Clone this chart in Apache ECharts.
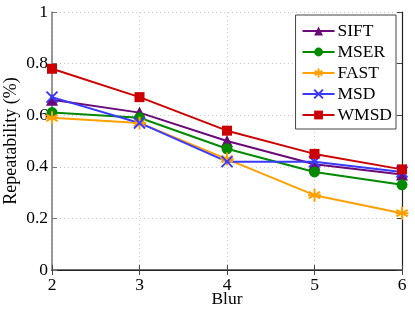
<!DOCTYPE html>
<html><head><meta charset="utf-8">
<script src="https://cdn.jsdelivr.net/npm/echarts@6/dist/echarts.min.js"></script>
<style>html,body{margin:0;padding:0;background:#fff}#c{width:415px;height:313px}</style>
</head><body><div id="c"></div>
<script>
const blur = [2, 3, 4, 5, 6];
const sift = [0.66, 0.61, 0.50, 0.41, 0.37];
const mser = [0.61, 0.59, 0.47, 0.38, 0.33];
const fast = [0.59, 0.57, 0.43, 0.29, 0.22];
const msd  = [0.67, 0.57, 0.42, 0.42, 0.38];
const wmsd = [0.78, 0.67, 0.54, 0.45, 0.39];
const yTicks = [0, 0.2, 0.4, 0.6, 0.8, 1];

const F = "'Liberation Serif','Times New Roman',serif";
const FS = 17.5;
const pair = arr => blur.map((b, i) => [b, arr[i]]);
const asterisk = 'path://M0,-10L0,10M-8.66,-5L8.66,5M-8.66,5L8.66,-5M-10,0L10,0';
const cross = 'path://M-10,-10L10,10M-10,10L10,-10';
function mk(name, data, color, symbol, size, stroke) {
  const s = {
    name, type: 'line', data: pair(data), symbol, symbolSize: size,
    lineStyle: {color, width: 2}, itemStyle: {color},
    emphasis: {disabled: true}, z: 3
  };
  if (stroke) s.itemStyle = {color: 'rgba(0,0,0,0)', borderColor: color, borderWidth: 2};
  return s;
}
const chart = echarts.init(document.getElementById('c'));
chart.setOption({
  animation: false,
  grid: {left: 52, right: 13, top: 12, bottom: 43, containLabel: false, outerBoundsMode: 'none'},
  legend: {
    right: 19, top: 15, orient: 'vertical', itemWidth: 32, itemHeight: 11, itemGap: 3,
    backgroundColor: '#fff', borderColor: '#444', borderWidth: 1, padding: [7, 4, 5, 6],
    textStyle: {fontFamily: F, fontSize: FS, color: '#000', padding: [0, 0, 0, -2]},
    data: ['SIFT', 'MSER', 'FAST', 'MSD', 'WMSD']
  },
  xAxis: [{
    type: 'value', min: 2, max: 6, interval: 1, name: 'Blur', nameLocation: 'middle', nameGap: 20,
    nameMoveOverlap: false,
    nameTextStyle: {fontFamily: F, fontSize: FS, color: '#000'},
    axisLine: {lineStyle: {color: '#444', width: 1.5}},
    axisTick: {inside: true, length: 5, lineStyle: {color: '#444'}},
    axisLabel: {fontFamily: F, fontSize: FS, color: '#000', margin: 6},
    splitLine: {show: true, lineStyle: {color: '#ccc', type: [1, 3]}}
  }, {
    type: 'value', min: 2, max: 6, interval: 1, position: 'top',
    axisLine: {show: true, lineStyle: {color: '#222', width: 1.2}},
    axisTick: {show: true, inside: true, length: 5, lineStyle: {color: '#444'}},
    axisLabel: {show: false}, splitLine: {show: false}
  }],
  yAxis: [{
    type: 'value', min: 0, max: 1, interval: 0.2, name: 'Repeatability (%)', nameLocation: 'middle', nameGap: 32,
    nameMoveOverlap: false,
    nameTextStyle: {fontFamily: F, fontSize: 18, color: '#000'},
    axisLine: {show: true, lineStyle: {color: '#777', width: 1.5}},
    axisTick: {show: true, inside: true, length: 5, lineStyle: {color: '#777'}},
    axisLabel: {fontFamily: F, fontSize: FS, color: '#000', margin: 4,
      formatter: v => yTicks.includes(+v.toFixed(1)) ? String(+v.toFixed(1)) : ''},
    splitLine: {show: true, lineStyle: {color: '#ccc', type: [1, 3]}}
  }, {
    type: 'value', min: 0, max: 1, interval: 0.2, position: 'right',
    axisLine: {show: true, lineStyle: {color: '#222', width: 1.2}},
    axisTick: {show: true, inside: true, length: 5, lineStyle: {color: '#444'}},
    axisLabel: {show: false}, splitLine: {show: false}
  }],
  series: [
    mk('SIFT', sift, '#6a0a78', 'triangle', 12),
    mk('MSER', mser, '#008a00', 'circle', 11),
    mk('FAST', fast, '#ffa000', asterisk, 13, true),
    mk('MSD', msd, '#3a3aff', cross, 11, true),
    mk('WMSD', wmsd, '#cc0000', 'rect', 10)
  ]
});
</script></body></html>
